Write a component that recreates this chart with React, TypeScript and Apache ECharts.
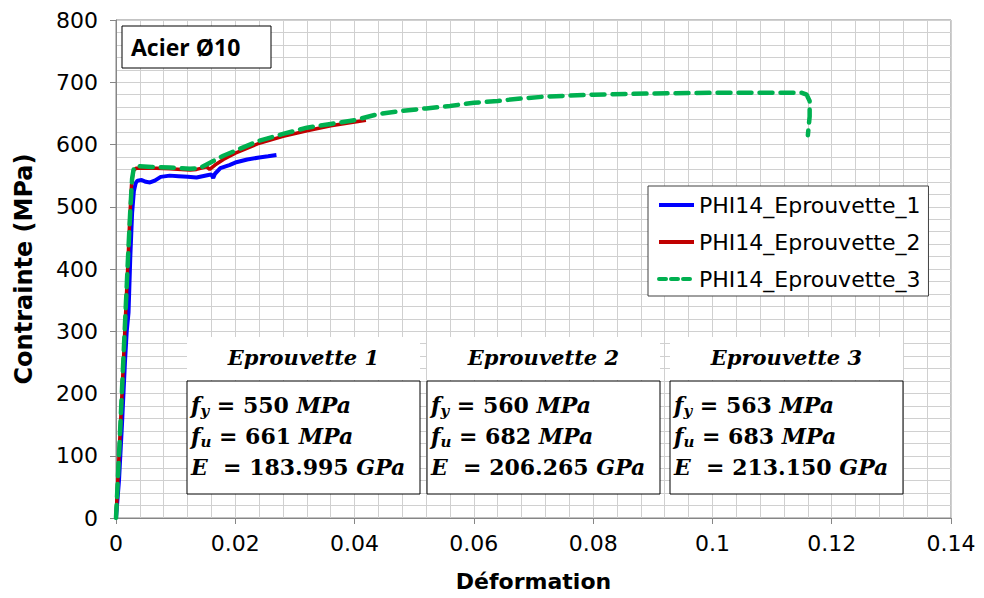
import React, { useEffect, useRef } from "react";
import * as echarts from "echarts";

// ---- Data ----
const seriesNames = ["PHI14_Eprouvette_1", "PHI14_Eprouvette_2", "PHI14_Eprouvette_3"];

const strain1 = [0, 0.0005, 0.001, 0.0015, 0.0018, 0.0021, 0.0024, 0.0027, 0.003, 0.0033, 0.0036, 0.0043, 0.005, 0.0057, 0.0065, 0.0075, 0.009, 0.0105, 0.012, 0.0135, 0.0145, 0.0155, 0.016, 0.0163, 0.0166, 0.0175, 0.019, 0.02, 0.022, 0.024, 0.0255, 0.0269];
const stress1 = [0, 60, 150, 250, 300, 330, 420, 490, 525, 538, 542, 543, 540, 539, 542, 548, 550, 549, 548, 547, 549, 551, 552, 546, 553, 562, 567, 571, 576, 579, 581, 583];

const strain2 = [0, 0.0005, 0.001, 0.0015, 0.002, 0.0023, 0.0026, 0.0029, 0.0034, 0.0046, 0.0068, 0.009, 0.011, 0.0124, 0.0135, 0.0152, 0.0157, 0.0166, 0.018, 0.02, 0.024, 0.028, 0.032, 0.036, 0.04, 0.0419];
const stress2 = [0, 100, 200, 305, 410, 480, 535, 558, 562, 562, 562, 561, 560, 559, 560, 564, 560, 567, 576, 586, 602, 613, 622, 630, 636, 639];

const strain3 = [0, 0.0005, 0.001, 0.0015, 0.002, 0.0024, 0.0027, 0.003, 0.004, 0.006, 0.009, 0.0124, 0.014, 0.016, 0.018, 0.02, 0.024, 0.028, 0.032, 0.036, 0.04, 0.044, 0.048, 0.052, 0.056, 0.06, 0.064, 0.068, 0.072, 0.08, 0.09, 0.1, 0.11, 0.115, 0.1158, 0.1163, 0.1163, 0.116];
const stress3 = [0, 100, 205, 310, 415, 495, 545, 563, 565, 564, 563, 561, 562, 572, 582, 590, 606, 617, 627, 633, 639, 649, 654, 658, 662, 667, 670, 674, 677, 680, 682, 683, 683, 683, 680, 670, 645, 615];

const specimenTitles = ["Eprouvette 1", "Eprouvette 2", "Eprouvette 3"];
const fyValues = [550, 560, 563];
const fuValues = [661, 682, 683];
const eValues = ["183.995", "206.265", "213.150"];

const labelText = "Acier Ø10";
const xTitle = "Déformation";
const yTitle = "Contrainte (MPa)";

const zip = (xs: number[], ys: number[]) => xs.map((x, i) => [x, ys[i]]);

const MATH_FONT = '"DejaVu Serif", "Liberation Serif", serif';
const SANS = '"DejaVu Sans", sans-serif';

const colors = ["#0000ff", "#c00000", "#00b050"];
const greenDash = [13, 8];

export default function App() {
  const ref = useRef<HTMLDivElement>(null);

  useEffect(() => {
    if (!ref.current) return;
    const chart = echarts.init(ref.current, null, { renderer: "svg" });

    const mathRich = {
      i: { fontFamily: MATH_FONT, fontStyle: "italic", fontWeight: "bold", fontSize: 22, color: "#000" },
      n: { fontFamily: MATH_FONT, fontWeight: "bold", fontSize: 22, color: "#000" },
      s: { fontFamily: MATH_FONT, fontStyle: "italic", fontWeight: "bold", fontSize: 15, color: "#000", padding: [12, 0, 0, 0] },
    };

    const boxX = [187, 427, 670];
    const boxW = 233;
    const graphics: any[] = [
      {
        type: "rect",
        z: 100,
        shape: { x: 122, y: 26, width: 149, height: 42 },
        style: { fill: "#fff", stroke: "#000", lineWidth: 1 },
      },
      {
        type: "text",
        z: 101,
        x: 131,
        y: 47,
        style: { text: labelText, fontFamily: '"Open Sans", sans-serif', fontWeight: "bold", fontSize: 23, fill: "#000", verticalAlign: "middle" },
      },
    ];
    specimenTitles.forEach((t, k) => {
      const x0 = boxX[k];
      graphics.push(
        { type: "rect", z: 100, shape: { x: x0, y: 337, width: boxW, height: 43 }, style: { fill: "#fff", stroke: null } },
        {
          type: "text", z: 101, x: x0 + boxW / 2, y: 357,
          style: { text: t, fontFamily: MATH_FONT, fontStyle: "italic", fontWeight: "bold", fontSize: 21, fill: "#000", align: "center", verticalAlign: "middle" },
        },
        { type: "rect", z: 100, shape: { x: x0, y: 381, width: boxW, height: 113 }, style: { fill: "#fff", stroke: "#000", lineWidth: 1 } },
        {
          type: "text", z: 101, x: x0 + 4, y: 405,
          style: { text: `{i|f}{s|y}{n| = ${fyValues[k]} }{i|MPa}`, rich: mathRich, verticalAlign: "middle" },
        },
        {
          type: "text", z: 101, x: x0 + 4, y: 436,
          style: { text: `{i|f}{s|u}{n| = ${fuValues[k]} }{i|MPa}`, rich: mathRich, verticalAlign: "middle" },
        },
        {
          type: "text", z: 101, x: x0 + 4, y: 467,
          style: { text: `{i|E}{n|  = ${eValues[k]} }{i|GPa}`, rich: mathRich, verticalAlign: "middle" },
        }
      );
    });

    const axisCommon = {
      type: "value",
      axisLine: { show: true, lineStyle: { color: "#868686", width: 1 } },
      axisTick: { show: true, length: 6, inside: false, lineStyle: { color: "#868686" } },
      splitLine: { show: true, lineStyle: { color: "#d0d0d0", width: 1 } },
      minorTick: { show: false, splitNumber: 5 },
      minorSplitLine: { show: true, lineStyle: { color: "#d0d0d0", width: 1 } },
    };

    chart.setOption({
      animation: false,
      backgroundColor: "#fff",
      grid: { left: 116, right: 33, top: 20, bottom: 80, show: true, borderColor: "#868686", borderWidth: 1, backgroundColor: "transparent" },
      xAxis: {
        ...axisCommon,
        min: 0,
        max: 0.14,
        interval: 0.02,
        axisLabel: { fontSize: 22, fontFamily: SANS, color: "#000", margin: 14 },
        name: xTitle,
        nameLocation: "middle",
        nameGap: 52,
        nameTextStyle: { fontSize: 22, fontWeight: "bold", fontFamily: SANS, color: "#000" },
      },
      yAxis: {
        ...axisCommon,
        min: 0,
        max: 800,
        interval: 100,
        axisLabel: { fontSize: 22, fontFamily: SANS, color: "#000", margin: 18 },
        name: yTitle,
        nameLocation: "middle",
        nameGap: 80,
        nameRotate: 90,
        nameTextStyle: { fontSize: 24, fontWeight: "bold", fontFamily: SANS, color: "#000" },
      },
      legend: {
        orient: "vertical",
        left: 648,
        top: 186,
        padding: [7, 8, 5, 9],
        itemWidth: 35,
        itemHeight: 14,
        itemGap: 13,
        backgroundColor: "#fff",
        borderColor: "#404040",
        borderWidth: 1,
        borderRadius: 0,
        itemStyle: { opacity: 0 },
        textStyle: { fontSize: 22, fontFamily: SANS, color: "#000", lineHeight: 24 },
        data: [
          { name: seriesNames[0], lineStyle: { color: colors[0], width: 4 } },
          { name: seriesNames[1], lineStyle: { color: colors[1], width: 4 } },
          { name: seriesNames[2], lineStyle: { color: colors[2], width: 4, type: [7, 5], cap: "round" } },
        ],
      },
      series: [
        {
          name: seriesNames[0], type: "line", symbol: "none", data: zip(strain1, stress1),
          lineStyle: { color: colors[0], width: 4 }, itemStyle: { color: colors[0] }, z: 3,
        },
        {
          name: seriesNames[1], type: "line", symbol: "none", data: zip(strain2, stress2),
          lineStyle: { color: colors[1], width: 3.5 }, itemStyle: { color: colors[1] }, z: 4,
        },
        {
          name: seriesNames[2], type: "line", symbol: "none", data: zip(strain3, stress3),
          lineStyle: { color: colors[2], width: 4.5, type: greenDash, cap: "round" }, itemStyle: { color: colors[2] }, z: 5,
        },
      ],
      graphic: graphics,
    });

    return () => chart.dispose();
  }, []);

  return <div ref={ref} style={{ width: 984, height: 598, position: "absolute", left: 0, top: 0 }} />;
}
